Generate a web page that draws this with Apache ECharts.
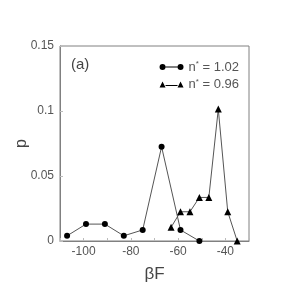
<!DOCTYPE html>
<html><head><meta charset="utf-8">
<script src="https://cdn.jsdelivr.net/npm/echarts@6/dist/echarts.min.js"></script>
<style>html,body{margin:0;padding:0;background:#fff}#c{width:300px;height:300px}</style>
</head><body><div id="c"></div>
<script>
var circleX = [-107, -99, -91, -83, -75, -67, -59, -51];
var circleY = [0.004, 0.013, 0.013, 0.004, 0.0085, 0.0725, 0.0085, 0.0];
var triX = [-63, -59, -55, -51, -47, -43, -39, -35];
var triY = [0.0105, 0.0225, 0.0225, 0.0335, 0.0335, 0.1015, 0.0225, 0.0];
var xTickLabels = [-100, -80, -60, -40];
var yTickLabels = [0, 0.05, 0.1, 0.15];
var seriesNames = ['n1', 'n2'];
var legendValues = ['1.02', '0.96'];

function pairs(xs, ys){ return xs.map(function(x,i){ return [x, ys[i]]; }); }
var font = 'Liberation Sans';
var chart = echarts.init(document.getElementById('c'));
chart.setOption({
  animation: false,
  textStyle: {fontFamily: font},
  grid: {left: 60, top: 46, right: 51, bottom: 59, show: true, borderColor: '#808080', borderWidth: 1, outerBoundsMode: 'none', containLabel: false},
  legend: {
    right: 56, top: 55, orient: 'vertical', itemGap: 4, itemWidth: 24, itemHeight: 6,
    data: [
      {name: 'n1', icon: 'path://M0,3a3,3 0 1,0 6,0a3,3 0 1,0 -6,0Z M18,3a3,3 0 1,0 6,0a3,3 0 1,0 -6,0Z M6,2.6h12v0.8h-12Z', itemStyle: {color: '#000'}},
      {name: 'n2', icon: 'path://M0,6L3,0L6,6Z M18,6L21,0L24,6Z M6,3.6h12v0.8h-12Z', itemStyle: {color: '#000'}}
    ],
    formatter: function(n){ var v = legendValues[seriesNames.indexOf(n)]; return '{a|n}{s|*}{a| = ' + v + '}'; },
    textStyle: {rich: {a: {fontSize: 13, color: '#555', fontFamily: font}, s: {fontSize: 8, color: '#555', verticalAlign: 'top', padding: [0,0,6,0], fontFamily: font}}}
  },
  graphic: [{type: 'text', left: 71, top: 57, style: {text: '(a)', fontSize: 15, fill: '#444', fontFamily: font}}],
  xAxis: {
    type: 'value', min: -110, max: -30, interval: 10,
    name: 'βF', nameLocation: 'middle', nameGap: 25, nameMoveOverlap: false,
    nameTextStyle: {fontSize: 17, color: '#444', fontFamily: font},
    axisLine: {lineStyle: {color: '#808080', width: 1}},
    axisTick: {inside: true, length: 3, lineStyle: {color: '#bbb'}},
    splitLine: {show: false},
    axisLabel: {fontSize: 12, color: '#555', margin: 5, formatter: function(v){ return xTickLabels.indexOf(v) >= 0 ? String(v) : ''; }}
  },
  yAxis: {
    type: 'value', min: 0, max: 0.15, interval: 0.05,
    name: 'p', nameLocation: 'middle', nameGap: 30, nameRotate: 90, nameMoveOverlap: false,
    nameTextStyle: {fontSize: 16, color: '#444', fontFamily: font},
    axisLine: {show: true, lineStyle: {color: '#808080', width: 1}},
    axisTick: {show: true, inside: true, length: 3, lineStyle: {color: '#bbb'}},
    splitLine: {show: false},
    axisLabel: {fontSize: 12, color: '#555', margin: 6, formatter: function(v){ var i = yTickLabels.indexOf(Math.round(v*100)/100); return i >= 0 ? String(yTickLabels[i]) : ''; }}
  },
  series: [
    {name: 'n1', type: 'line', data: pairs(circleX, circleY), symbol: 'circle', symbolSize: 6,
     lineStyle: {color: '#555', width: 1}, itemStyle: {color: '#000'}},
    {name: 'n2', type: 'line', data: pairs(triX, triY), symbol: 'triangle', symbolSize: 7,
     lineStyle: {color: '#555', width: 1}, itemStyle: {color: '#000'}}
  ]
});
</script></body></html>
